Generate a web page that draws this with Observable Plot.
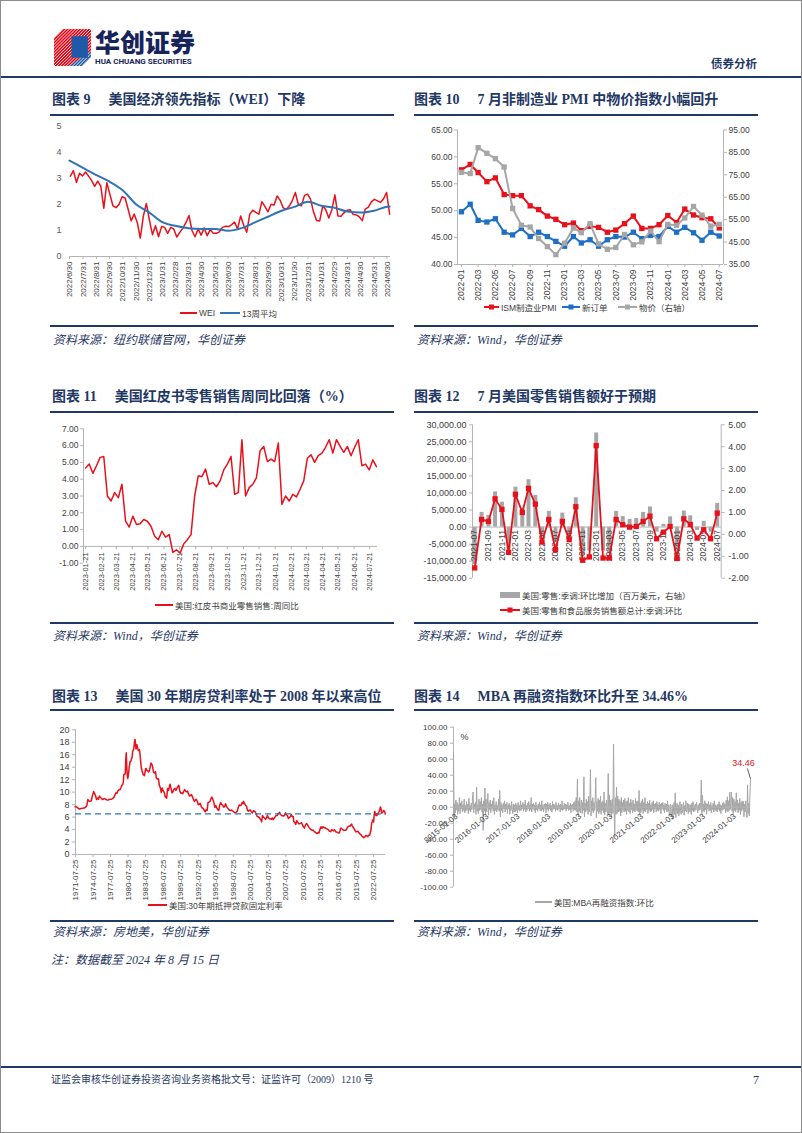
<!DOCTYPE html>
<html lang="zh">
<head>
<meta charset="utf-8">
<script src="https://cdn.jsdelivr.net/npm/d3@7"></script>
<script src="https://cdn.jsdelivr.net/npm/@observablehq/plot@0.6"></script>
<style>
html,body{margin:0;padding:0;background:#fff;}
#page{position:relative;width:802px;height:1133px;overflow:hidden;background:#fff;font-family:"Liberation Sans","Noto Sans CJK SC",sans-serif;}
#border{position:absolute;left:0;top:0;width:802px;height:1133px;box-sizing:border-box;border:1.5px solid #8c8c8c;pointer-events:none;}
.abs{position:absolute;white-space:nowrap;}
.title{font-family:"Liberation Serif","Noto Sans CJK SC",serif;font-weight:bold;font-size:14px;color:#1f3864;line-height:16px;}
.src{font-family:"Liberation Serif","Noto Sans CJK SC",serif;font-style:italic;font-size:12px;color:#1f3864;line-height:14px;}
.leg{position:absolute;display:flex;align-items:center;height:12px;font-size:8.5px;color:#404040;white-space:nowrap;font-family:"Liberation Sans","Noto Sans CJK SC",sans-serif;}
.leg svg{margin-right:2px;display:block;}
.hr{position:absolute;background:#1f3864;}
.chart{position:absolute;}
.chart svg{max-width:none;}
</style>
</head>
<body>
<div id="page"></div>
<script>
// ---------------- DATA ----------------
// Chart 9: NY Fed WEI (weekly from 2022-07-02) and 13-week average
const weiValues = [3.09,3.3,2.85,3.2,3.1,3.25,3.09,2.92,2.7,2.9,2.71,1.86,2.84,2.39,1.95,1.88,2.0,2.3,2.25,1.82,
  1.37,1.63,1.31,0.71,1.55,2.04,1.4,0.84,1.18,0.76,1.15,1.12,0.89,1.12,1.06,0.75,0.93,1.09,1.3,1.58,
  1.0,0.76,1.06,0.82,1.1,0.8,1.04,0.89,0.89,0.95,1.12,1.16,1.15,1.22,1.32,1.06,1.56,1.2,0.93,1.63,
  1.78,1.7,1.63,2.11,1.92,1.72,2.01,1.98,2.33,2.16,1.87,1.82,1.94,2.15,2.46,1.98,1.95,2.35,2.4,2.2,
  1.7,1.38,1.37,1.95,1.8,1.48,1.8,2.37,1.56,1.55,1.68,1.78,1.8,1.62,1.6,1.53,1.38,1.82,1.9,2.1,
  2.2,2.14,2.08,2.22,2.46,1.63];
const avgDates = ["2022/6/30","2022/7/31","2022/8/31","2022/9/30","2022/10/31","2022/11/30","2022/12/31","2023/1/31","2023/2/28",
  "2023/3/31","2023/4/30","2023/5/31","2023/6/30","2023/7/31","2023/8/31","2023/9/30","2023/10/31","2023/11/30","2023/12/31",
  "2024/1/31","2024/2/29","2024/3/31","2024/4/30","2024/5/31","2024/6/30","2024/7/6"];
const avgValues = [3.69,3.41,3.13,2.88,2.54,2.01,1.69,1.31,1.18,1.09,1.06,1.06,0.99,1.09,1.31,1.53,1.76,1.91,2.11,1.95,1.88,1.73,1.69,1.76,1.91,1.92];
const weiTicks = ["2022/6/30","2022/7/31","2022/8/31","2022/9/30","2022/10/31","2022/11/30","2022/12/31","2023/1/31","2023/2/28",
  "2023/3/31","2023/4/30","2023/5/31","2023/6/30","2023/7/31","2023/8/31","2023/9/30","2023/10/31","2023/11/30","2023/12/31",
  "2024/1/31","2024/2/29","2024/3/31","2024/4/30","2024/5/31","2024/6/30"];
const weiYTicks = [0,1,2,3,4,5];

// Chart 10: ISM (monthly 2022-01 .. 2024-07)
const months10 = ["2022-01","2022-02","2022-03","2022-04","2022-05","2022-06","2022-07","2022-08","2022-09","2022-10","2022-11","2022-12",
  "2023-01","2023-02","2023-03","2023-04","2023-05","2023-06","2023-07","2023-08","2023-09","2023-10","2023-11","2023-12",
  "2024-01","2024-02","2024-03","2024-04","2024-05","2024-06","2024-07"];
const pmiValues = [57.6,58.6,57.1,55.4,56.1,53.0,52.8,52.8,50.9,50.2,49.0,48.4,47.4,47.7,46.3,47.1,46.9,46.0,46.4,47.6,49.0,46.7,46.7,47.4,49.1,47.8,50.3,49.2,48.7,48.5,46.8];
const orderValues = [49.8,51.2,48.2,47.9,48.5,46.0,45.5,46.7,45.2,46.0,45.2,44.3,43.4,45.2,44.0,44.6,43.4,44.6,45.2,45.1,46.0,44.8,45.4,45.2,47.1,46.0,46.9,45.9,44.5,46.0,45.3];
const priceValues = [76.1,75.6,87.1,84.6,82.2,78.5,60.0,52.5,51.7,46.6,43.0,39.4,44.5,51.3,49.2,53.2,44.2,41.8,42.6,48.4,43.8,45.1,49.9,45.2,52.9,52.5,55.8,60.9,57.0,52.1,52.9];
const ticks10 = ["2022-01","2022-03","2022-05","2022-07","2022-09","2022-11","2023-01","2023-03","2023-05","2023-07","2023-09","2023-11","2024-01","2024-03","2024-05","2024-07"];
const leftTicks10 = [40,45,50,55,60,65];
const rightTicks10 = [35,45,55,65,75,85,95];

// Chart 11: Redbook weekly y/y (from 2023-01-21)
const redbookValues = [4.67,4.9,4.35,4.8,5.3,5.35,3.0,2.7,3.2,2.9,3.7,1.5,1.15,1.8,1.3,1.35,1.6,1.5,1.2,0.6,
  0.4,0.9,0.55,0.7,-0.35,-0.2,-0.4,0.15,0.4,0.7,3.0,4.2,4.15,4.6,3.7,3.8,3.55,3.9,4.55,4.9,
  5.35,3.1,3.2,6.35,3.0,3.5,3.7,4.1,5.7,5.95,5.05,5.2,5.05,6.15,2.5,3.0,2.7,3.1,2.95,3.4,
  3.9,5.25,5.45,5.0,5.4,5.55,5.9,6.35,5.55,6.35,5.95,5.6,5.95,5.4,5.9,6.35,4.8,4.9,4.55,5.15,4.75];
const ticks11 = ["2023-01-21","2023-02-21","2023-03-21","2023-04-21","2023-05-21","2023-06-21","2023-07-21","2023-08-21","2023-09-21","2023-10-21",
  "2023-11-21","2023-12-21","2024-01-21","2024-02-21","2024-03-21","2024-04-21","2024-05-21","2024-06-21","2024-07-21"];
const yTicks11 = [-1,0,1,2,3,4,5,6,7];

// Chart 12: US retail sales (monthly 2021-07 .. 2024-07)
const months12 = ["2021-07","2021-08","2021-09","2021-10","2021-11","2021-12","2022-01","2022-02","2022-03","2022-04","2022-05","2022-06",
  "2022-07","2022-08","2022-09","2022-10","2022-11","2022-12","2023-01","2023-02","2023-03","2023-04","2023-05","2023-06",
  "2023-07","2023-08","2023-09","2023-10","2023-11","2023-12","2024-01","2024-02","2024-03","2024-04","2024-05","2024-06","2024-07"];
const retailChange = [-11000,4300,3400,10300,7300,-6500,11700,5500,13900,9300,-2500,4600,-4500,4100,-2500,8600,-8200,-7000,27600,-7000,-7500,4600,3100,2250,2500,4300,5900,-1500,800,3000,-8000,4700,3300,-1000,1700,-1500,6900];
const retailMoM = [-1.53,0.68,0.59,1.62,1.14,-0.82,1.83,1.0,2.1,1.38,-0.35,0.68,-0.7,0.59,-0.24,1.26,-1.18,-1.03,4.05,-1.08,-1.08,0.68,0.44,0.33,0.36,0.59,0.83,-0.2,0.1,0.36,-1.1,0.71,0.45,-0.17,0.21,-0.2,0.97];
const ticks12 = ["2021-07","2021-09","2021-11","2022-01","2022-03","2022-05","2022-07","2022-09","2022-11","2023-01","2023-03","2023-05","2023-07","2023-09","2023-11","2024-01","2024-03","2024-05","2024-07"];
const leftTicks12 = [-15000,-10000,-5000,0,5000,10000,15000,20000,25000,30000];
const rightTicks12 = [-2,-1,0,1,2,3,4,5];

// Chart 13: Freddie Mac 30Y fixed mortgage rate
const mortMonths = ["1971-07","1971-10","1972-01","1972-04","1972-07","1972-10","1973-01","1973-04","1973-07","1973-09","1973-11",
 "1974-01","1974-04","1974-06","1974-08","1974-09","1974-11","1975-01","1975-03","1975-05","1975-07","1975-09","1975-11",
 "1976-01","1976-03","1976-05","1976-07","1976-09","1976-11","1977-01","1977-03","1977-05","1977-07","1977-09","1977-11",
 "1978-01","1978-03","1978-05","1978-07","1978-09","1978-11","1979-01","1979-03","1979-05","1979-07","1979-09","1979-10","1979-11",
 "1980-01","1980-02","1980-03","1980-04","1980-05","1980-06","1980-07","1980-08","1980-09","1980-10","1980-11","1980-12",
 "1981-01","1981-02","1981-03","1981-04","1981-05","1981-06","1981-07","1981-08","1981-09","1981-10","1981-11","1981-12",
 "1982-01","1982-02","1982-03","1982-04","1982-05","1982-06","1982-07","1982-08","1982-09","1982-10","1982-11","1982-12",
 "1983-01","1983-02","1983-03","1983-04","1983-05","1983-06","1983-07","1983-08","1983-09","1983-10","1983-11","1983-12",
 "1984-01","1984-02","1984-03","1984-04","1984-05","1984-06","1984-07","1984-08","1984-09","1984-10","1984-11","1984-12",
 "1985-02","1985-04","1985-06","1985-08","1985-10","1985-12","1986-02","1986-04","1986-06","1986-08","1986-10","1986-12",
 "1987-02","1987-03","1987-05","1987-07","1987-09","1987-10","1987-12","1988-02","1988-04","1988-06","1988-08","1988-10","1988-12",
 "1989-02","1989-04","1989-06","1989-08","1989-10","1989-12","1990-02","1990-04","1990-06","1990-08","1990-10","1990-12",
 "1991-02","1991-04","1991-06","1991-08","1991-10","1991-12","1992-02","1992-04","1992-06","1992-08","1992-10","1992-12",
 "1993-02","1993-04","1993-06","1993-08","1993-10","1993-12","1994-02","1994-04","1994-06","1994-08","1994-10","1994-12",
 "1995-02","1995-04","1995-06","1995-08","1995-10","1995-12","1996-02","1996-04","1996-06","1996-08","1996-10","1996-12",
 "1997-02","1997-04","1997-06","1997-08","1997-10","1997-12","1998-02","1998-04","1998-06","1998-08","1998-10","1998-12",
 "1999-02","1999-04","1999-06","1999-08","1999-10","1999-12","2000-02","2000-04","2000-05","2000-07","2000-09","2000-11",
 "2001-01","2001-03","2001-05","2001-07","2001-09","2001-11","2002-01","2002-03","2002-05","2002-07","2002-09","2002-11",
 "2003-01","2003-03","2003-05","2003-06","2003-08","2003-10","2003-12","2004-02","2004-04","2004-06","2004-08","2004-10","2004-12",
 "2005-02","2005-04","2005-06","2005-08","2005-10","2005-12","2006-02","2006-04","2006-06","2006-07","2006-09","2006-11",
 "2007-01","2007-03","2007-05","2007-07","2007-09","2007-11","2008-01","2008-03","2008-05","2008-07","2008-09","2008-11","2008-12",
 "2009-02","2009-04","2009-06","2009-08","2009-10","2009-12","2010-02","2010-04","2010-06","2010-08","2010-10","2010-12",
 "2011-02","2011-04","2011-06","2011-08","2011-10","2011-12","2012-02","2012-04","2012-06","2012-08","2012-10","2012-12",
 "2013-02","2013-04","2013-06","2013-08","2013-10","2013-12","2014-02","2014-04","2014-06","2014-08","2014-10","2014-12",
 "2015-02","2015-04","2015-06","2015-08","2015-10","2015-12","2016-02","2016-04","2016-06","2016-08","2016-10","2016-12",
 "2017-02","2017-04","2017-06","2017-08","2017-10","2017-12","2018-02","2018-04","2018-06","2018-08","2018-10","2018-11","2018-12",
 "2019-02","2019-04","2019-06","2019-08","2019-10","2019-12","2020-02","2020-04","2020-06","2020-08","2020-10","2020-12",
 "2021-02","2021-04","2021-06","2021-08","2021-10","2021-12","2022-01","2022-02","2022-03","2022-04","2022-05","2022-06",
 "2022-07","2022-08","2022-09","2022-10","2022-11","2022-12","2023-01","2023-02","2023-03","2023-04","2023-05","2023-06",
 "2023-07","2023-08","2023-09","2023-10","2023-11","2023-12","2024-01","2024-02","2024-03","2024-04","2024-05","2024-06","2024-07","2024-08"];
const mortRates = [7.69,7.63,7.44,7.29,7.37,7.40,7.44,7.54,7.85,8.82,8.58,
 8.54,8.58,9.28,9.77,10.11,9.79,9.43,8.83,9.04,8.87,9.37,9.14,
 9.02,8.82,8.86,8.99,8.89,8.81,8.72,8.74,8.84,8.85,8.85,8.93,
 9.04,9.20,9.59,9.88,9.81,10.22,10.39,10.37,10.69,11.09,11.30,11.64,12.83,
 12.88,13.04,15.28,16.32,14.26,12.71,12.19,12.56,13.20,14.00,14.47,14.95,
 14.90,15.13,15.40,15.58,16.40,16.70,16.83,17.29,18.16,18.45,17.83,16.92,
 17.40,17.60,17.16,16.89,16.68,16.70,16.82,16.27,15.43,14.61,13.83,13.62,
 13.25,13.04,12.80,12.78,12.63,12.87,13.42,13.81,13.73,13.54,13.44,13.42,
 13.37,13.23,13.39,13.65,13.94,14.42,14.67,14.47,14.35,14.13,13.64,13.18,
 13.07,13.29,12.22,12.12,12.16,11.09,10.70,9.94,10.68,10.20,9.97,9.31,
 9.08,9.04,10.60,10.28,11.03,11.26,10.65,9.88,10.07,10.46,10.60,10.27,10.61,
 10.93,11.09,10.16,9.83,9.89,9.74,10.14,10.41,10.16,10.06,10.17,9.67,
 9.37,9.49,9.62,9.24,8.86,8.50,8.76,8.85,8.51,7.99,8.04,8.21,
 7.68,7.46,7.42,7.11,6.83,7.17,7.06,8.32,8.40,8.51,8.93,9.20,
 8.83,8.32,7.57,7.86,7.48,7.20,7.08,7.93,8.32,7.99,7.92,7.60,
 7.65,8.14,7.69,7.48,7.29,7.10,7.04,7.14,7.00,6.92,6.71,6.72,
 6.81,6.92,7.55,7.94,7.85,7.91,8.33,8.15,8.52,8.15,7.91,7.75,
 7.03,6.95,7.14,7.13,6.82,6.66,7.00,6.97,6.81,6.49,6.09,6.07,
 5.92,5.75,5.48,5.23,6.26,5.95,5.88,5.64,5.83,6.29,5.88,5.72,5.75,
 5.63,5.86,5.58,5.82,6.07,6.27,6.25,6.51,6.68,6.76,6.40,6.24,
 6.22,6.16,6.26,6.70,6.38,6.21,5.76,5.97,6.04,6.43,6.04,6.09,5.29,
 5.13,4.81,5.42,5.19,4.95,4.93,4.99,5.10,4.74,4.43,4.23,4.71,
 4.95,4.84,4.51,4.27,4.07,3.96,3.89,3.91,3.68,3.60,3.47,3.35,
 3.53,3.45,4.07,4.46,4.20,4.46,4.30,4.34,4.16,4.12,4.04,3.86,
 3.71,3.67,3.98,3.91,3.80,3.96,3.66,3.61,3.57,3.44,3.47,4.20,
 4.17,4.05,3.90,3.88,3.90,3.95,4.33,4.47,4.57,4.55,4.83,4.87,4.64,
 4.37,4.14,3.80,3.62,3.69,3.72,3.47,3.31,3.16,2.94,2.83,2.68,
 2.81,3.06,2.98,2.84,3.07,3.10,3.45,3.76,4.17,4.98,5.23,5.52,
 5.41,5.22,6.11,6.90,6.81,6.36,6.27,6.26,6.54,6.34,6.43,6.71,
 6.84,7.07,7.20,7.62,7.44,6.82,6.64,6.78,6.82,6.99,7.06,6.92,6.85,6.49];
const ticks13 = ["1971-07-25","1974-07-25","1977-07-25","1980-07-25","1983-07-25","1986-07-25","1989-07-25","1992-07-25","1995-07-25",
  "1998-07-25","2001-07-25","2004-07-25","2007-07-25","2010-07-25","2013-07-25","2016-07-25","2019-07-25","2022-07-25"];
const yTicks13 = [0,2,4,6,8,10,12,14,16,18,20];
const dashLevel = [6.5];

// Chart 14: MBA refinance index w/w % (weekly from 2015-01-03)
const mbaValues = [
 66,-15,4,-7,9,-3,6,-9,3,-5,12,-8,5, -2,8,-6,3,-4,10,-7,2,-5,7,-3,4,-8, 11,-4,2,-6,5,-3,9,19,-7,4,-2,6,-9, 25,-5,3,-8,10,-4,7,-3,12,-6,4,-29,8,
 -5,24,-8,10,-6,3,17,-10,6,-3,9,-7,4, -2,8,-5,12,-9,3,-4,7,-6,2,-3,10,-5, 21,-12,6,-4,3,-7,5,-2,8,-6,4,-3,6, -8,3,-2,5,-9,2,-4,7,-3,-8,4,-6,3,
 -6,5,-4,3,-7,6,-3,2,-5,8,-4,3,-2, 6,-5,4,-3,9,-6,2,-4,5,-2,7,-5,3, -3,12,-6,4,-2,5,-4,3,-7,6,-3,2,-5, 4,-2,6,-4,3,-5,8,-3,2,-6,4,-2,5,
 -7,4,-3,6,-5,3,-2,5,-4,2,-6,7,-3, 4,-2,3,-5,6,-3,2,-4,5,-2,3,-6,4, -3,8,-4,2,-3,5,-2,4,-5,3,-2,6,-4, 2,-3,5,-7,3,-2,4,-5,6,-3,8,-4,12,
 -6,35,-10,8,-5,12,-7,4,9,-8,6,-4,38, -12,5,-6,10,-4,7,-9,14,-6,5,47,-11,8, -5,12,-7,6,-4,10,37,-13,7,-5,11,-8,9, -6,14,-9,6,-4,8,-7,19,-10,5,-6,9,-4,
 -8,42,-10,15,-7,9,-12,6,10,-8,79,-6,-37, 12,-9,25,-8,14,-6,10,-5,8,-11,12,-7,6, -4,9,-6,11,-5,7,-9,8,-4,12,-6,5,-8, 10,-3,6,-7,9,-5,4,-6,11,-4,7,-5,8,
 -6,21,-9,5,-7,8,-4,10,-8,6,-5,12,-6, 4,-3,7,-8,5,-4,9,-6,3,-5,6,-3,8, -7,4,-2,5,-6,7,-4,3,-5,6,-3,4,-8, 5,-2,6,-4,3,-7,5,-3,4,-6,8,-5,3,
 -10,-6,4,-12,-8,3,-15,-5,6,-9,18,-13,-4, 5,-8,3,-11,-6,7,-4,-9,4,-7,-3,6,-10, 2,-5,8,-6,-3,5,-8,4,-2,-6,3,-9,5, -4,7,-6,2,-5,4,-3,6,-2,-7,3,-4,5,
 -3,6,34,-8,15,-5,4,-6,8,-3,5,-9,4, -2,7,-5,3,-4,6,-7,2,-3,5,-6,8,-4, 3,-5,2,-6,4,-3,7,-5,3,-8,2,-4,5, -3,6,-2,4,-7,9,-5,13,-6,8,-4,19,-3,
 6,19,-5,12,-8,10,-4,7,-6,18,-3,9,-7,5,-4,11,-9,6,-5,8,-3,7,-12,4,-6,8,-4,-13,28,-8,5,-11,15,34.46];
const ticks14 = ["2015-01-03","2016-01-03","2017-01-03","2018-01-03","2019-01-03","2020-01-03","2021-01-03","2022-01-03","2023-01-03","2024-01-03"];
const yTicks14 = [-100,-80,-60,-40,-20,0,20,40,60,80,100];

// ---------------- LAYOUT HELPERS ----------------
const NAVY = "#1f3864", RED = "#e8101a", BLUE9 = "#2e74b5", BLUE10 = "#1f6fc4", GRAY = "#a6a6a6", AX = "#b4b4b4", TXT = "#404040";
const page = document.getElementById("page");
function el(tag, cls, css, html) {
  const e = document.createElement(tag);
  if (cls) e.className = cls;
  Object.assign(e.style, css);
  if (html != null) e.innerHTML = html;
  page.appendChild(e);
  return e;
}
function hr(x1, x2, y, h) { el("div", "hr", {left: x1 + "px", top: (y - h / 2) + "px", width: (x2 - x1) + "px", height: h + "px"}); }
function title(x, yc, num, text) {
  el("div", "abs title", {left: x + "px", top: (yc - 8) + "px"}, `<span>图表 ${num}</span><span style="margin-left:18px">${text}</span>`);
}
function source(x, yc, text) { el("div", "abs src", {left: x + "px", top: (yc - 7) + "px"}, text); }
function legend(x, yc, kind, color, label, w) {
  let sw = `<svg width="${w}" height="12">`;
  if (kind === "rect") sw += `<rect x="0" y="3" width="${w}" height="6" fill="${color}"/>`;
  else sw += `<line x1="0" x2="${w}" y1="6" y2="6" stroke="${color}" stroke-width="2"/>`;
  if (kind === "sq") sw += `<rect x="${w / 2 - 2.5}" y="3.5" width="5" height="5" fill="${color}"/>`;
  sw += `</svg>`;
  el("div", "leg", {left: x + "px", top: (yc - 6) + "px"}, sw + `<span>${label}</span>`);
}
function place(svg, x, y, w, h) {
  const d = el("div", "chart", {left: x + "px", top: y + "px", width: w + "px", height: h + "px"});
  d.appendChild(svg);
}
const fmtLocale = d3.formatLocale({decimal: ".", thousands: ",", grouping: [3], currency: ["", ""], minus: "-"});
const f2 = fmtLocale.format(".2f"), fc2 = fmtLocale.format(",.2f"), fInt = d => String(d);
const parseSlash = d3.timeParse("%Y/%m/%d"), parseYM = d3.timeParse("%Y-%m"), parseYMD = d3.timeParse("%Y-%m-%d");
const baseStyle = {background: "transparent", overflow: "visible", fontFamily: '"Liberation Sans","Noto Sans CJK SC",sans-serif', fontSize: "8.5px", color: TXT};

// ---------------- PAGE FURNITURE ----------------
el("div", "abs", {left: "54px", top: "29px"}, `<svg width="37" height="37" viewBox="0 0 36 36">
 <defs><clipPath id="lg"><path d="M0,9 L9,0 L36,0 L36,27 L27,36 L0,36Z"/></clipPath></defs>
 <g clip-path="url(#lg)">
  <rect width="36" height="36" fill="#e60012"/>
  <path d="M36,22 L36,36 L14,36Z" fill="#1e5aa8"/>
  <g stroke="#fff" stroke-width="0.9">${d3.range(-36, 40, 3).map(v => `<line x1="${v}" y1="36" x2="${v + 36}" y2="0"/>`).join("")}</g>
  <rect x="17" y="7" width="16" height="21" fill="#1e5aa8"/>
 </g></svg>`);
el("div", "abs", {left: "95px", top: "29px", fontFamily: '"Noto Sans CJK SC",sans-serif', fontWeight: "900", fontSize: "25px", lineHeight: "25px", color: "#17245a"}, "华创证券");
el("div", "abs", {left: "95px", top: "57px", fontFamily: "Roboto,sans-serif", fontWeight: "bold", fontSize: "8px", lineHeight: "9px", color: "#17245a"}, "HUA CHUANG SECURITIES");
el("div", "abs", {left: "711px", top: "56px", fontFamily: '"Noto Sans CJK SC",sans-serif', fontWeight: "bold", fontSize: "11.5px", lineHeight: "14px", color: NAVY}, "债券分析");
hr(0, 802, 77, 2);

title(52, 100, "9", "美国经济领先指标（WEI）下降");
title(414, 100, "10", "7 月非制造业 PMI 中物价指数小幅回升");
hr(50, 394, 115, 2); hr(414, 758, 115, 2);
title(52, 397, "11", "美国红皮书零售销售周同比回落（%）");
title(414, 397, "12", "7 月美国零售销售额好于预期");
hr(50, 394, 412, 2); hr(414, 758, 412, 2);
title(52, 697, "13", "美国 30 年期房贷利率处于 2008 年以来高位");
title(414, 697, "14", "MBA 再融资指数环比升至 34.46%");
hr(50, 394, 710, 2); hr(414, 758, 710, 2);

hr(50, 394, 326, 1.5); hr(414, 758, 326, 1.5);
hr(50, 394, 623, 1.5); hr(414, 758, 623, 1.5);
hr(50, 394, 921, 1.5); hr(414, 758, 921, 1.5);
source(53, 340, "资料来源：纽约联储官网，华创证券");
source(417, 340, "资料来源：Wind，华创证券");
source(53, 636, "资料来源：Wind，华创证券");
source(417, 636, "资料来源：Wind，华创证券");
source(53, 932, "资料来源：房地美，华创证券");
source(417, 932, "资料来源：Wind，华创证券");
source(51, 960, "注：数据截至 2024 年 8 月 15 日");

hr(0, 802, 1067, 2);
el("div", "abs", {left: "51px", top: "1073px", fontFamily: '"Liberation Serif","Noto Sans CJK SC",serif', fontSize: "10px", lineHeight: "14px", color: NAVY}, "证监会审核华创证券投资咨询业务资格批文号：证监许可（2009）1210 号");
el("div", "abs", {left: "753px", top: "1072px", fontFamily: '"Liberation Serif",serif', fontSize: "12px", lineHeight: "16px", color: NAVY}, "7");

// ---------------- CHART 9 ----------------
{
  const weiStart = parseYMD("2022-07-02");
  const weiData = weiValues.map((v, i) => ({date: d3.timeDay.offset(weiStart, 7 * i), v}));
  const avgData = avgDates.map((d, i) => ({date: parseSlash(d), v: avgValues[i]}));
  const xd = [parseSlash("2022/6/30"), parseSlash("2024/7/8")];
  const svg = Plot.plot({
    width: 360, height: 195, marginLeft: 29, marginRight: 10, marginTop: 11, marginBottom: 54,
    style: baseStyle,
    x: {type: "time", domain: xd},
    y: {domain: [0, 5]},
    marks: [
      Plot.ruleY([0], {stroke: AX}),
      Plot.axisY({ticks: weiYTicks, tickFormat: fInt, tickSize: 0, tickPadding: 8, label: null, fontSize: 9, fill: "#595959"}),
      Plot.axisX({ticks: weiTicks.map(parseSlash), tickFormat: d3.timeFormat("%Y/%-m/%-d"), tickRotate: -90, tickSize: 3, tickPadding: 2, label: null, stroke: AX, fill: TXT, fontSize: 8}),
      Plot.line(weiData, {x: "date", y: "v", stroke: RED, strokeWidth: 1.5}),
      Plot.line(avgData, {x: "date", y: "v", stroke: BLUE9, strokeWidth: 2, curve: "monotone-x"})
    ]
  });
  place(svg, 40, 115, 360, 195);
  legend(180, 313, "line", RED, "WEI", 17);
  legend(220, 313, "line", BLUE9, "13周平均", 20);
}

// ---------------- CHART 10 ----------------
{
  const toLeft = p => 40 + (p - 35) * 25 / 60;
  const fromLeft = y => 35 + (y - 40) * 60 / 25;
  const rows = months10.map((m, i) => ({date: parseYM(m), pmi: pmiValues[i], ord: orderValues[i], price: toLeft(priceValues[i])}));
  const xd = [parseYMD("2021-12-18"), parseYMD("2024-07-16")];
  const svg = Plot.plot({
    width: 360, height: 185, marginLeft: 47, marginRight: 47, marginTop: 14.5, marginBottom: 36,
    style: baseStyle,
    x: {type: "time", domain: xd},
    y: {domain: [40, 65]},
    marks: [
      Plot.ruleX(xd, {stroke: AX}),
      Plot.ruleY([40], {stroke: AX}),
      Plot.axisY({anchor: "left", ticks: leftTicks10, tickFormat: f2, tickSize: 3, tickPadding: 2, label: null, stroke: AX, fill: TXT, fontSize: 8.5}),
      Plot.axisY({anchor: "right", ticks: rightTicks10.map(toLeft), tickFormat: y => f2(fromLeft(y)), tickSize: 3, tickPadding: 2, label: null, stroke: AX, fill: TXT, fontSize: 8.5}),
      Plot.axisX({ticks: ticks10.map(parseYM), tickFormat: d3.timeFormat("%Y-%m"), tickRotate: -90, tickSize: 3, tickPadding: 2, label: null, stroke: AX, fill: TXT, fontSize: 8.5}),
      Plot.line(rows, {x: "date", y: "pmi", stroke: RED, strokeWidth: 2}),
      Plot.dot(rows, {x: "date", y: "pmi", symbol: "square", r: 3, fill: RED}),
      Plot.line(rows, {x: "date", y: "ord", stroke: BLUE10, strokeWidth: 2}),
      Plot.dot(rows, {x: "date", y: "ord", symbol: "square", r: 3, fill: BLUE10}),
      Plot.line(rows, {x: "date", y: "price", stroke: GRAY, strokeWidth: 2}),
      Plot.dot(rows, {x: "date", y: "price", symbol: "square", r: 3, fill: GRAY})
    ]
  });
  place(svg, 410, 115, 360, 185);
  legend(484, 307, "sq", RED, "ISM制造业PMI", 15);
  legend(562, 307, "sq", BLUE10, "新订单", 18);
  legend(618, 307, "sq", GRAY, "物价（右轴）", 19);
}

// ---------------- CHART 11 ----------------
{
  const start = parseYMD("2023-01-21");
  const rows = redbookValues.map((v, i) => ({date: d3.timeDay.offset(start, 7 * i), v}));
  const xd = [parseYMD("2023-01-17"), parseYMD("2024-08-05")];
  const tk = ticks11.map(parseYMD);
  const svg = Plot.plot({
    width: 360, height: 180, marginLeft: 43, marginRight: 23, marginTop: 13.3, marginBottom: 32.3,
    style: baseStyle,
    x: {type: "time", domain: xd, axis: null},
    y: {domain: [-1, 7]},
    marks: [
      Plot.ruleX([xd[0]], {stroke: AX}),
      Plot.ruleY([0], {stroke: AX}),
      Plot.ruleX(tk, {x: d => d, y1: 0, y2: -0.2, stroke: AX}),
      Plot.axisY({ticks: yTicks11, tickFormat: f2, tickSize: 3, tickPadding: 2, label: null, stroke: AX, fill: TXT, fontSize: 8.5}),
      Plot.text(tk, {x: d => d, y: 0, text: d3.timeFormat("%Y-%m-%d"), rotate: -90, textAnchor: "end", dy: 6, fontSize: 7.5, fill: TXT}),
      Plot.line(rows, {x: "date", y: "v", stroke: RED, strokeWidth: 1.5})
    ]
  });
  place(svg, 40, 415, 360, 180);
  legend(155, 605, "line", RED, "美国:红皮书商业零售销售:周同比", 18);
}

// ---------------- CHART 12 ----------------
{
  const toLeft = r => -15000 + (r + 2) * 45000 / 7;
  const fromLeft = y => (y + 15000) * 7 / 45000 - 2;
  const rows = months12.map((m, i) => ({date: parseYM(m), bar: retailChange[i], r: toLeft(retailMoM[i])}));
  const xd = [parseYMD("2021-06-21"), parseYMD("2024-07-19")];
  const tk = ticks12.map(parseYM);
  const svg = Plot.plot({
    width: 360, height: 175, marginLeft: 62, marginRight: 49.3, marginTop: 9.3, marginBottom: 12.3,
    style: baseStyle,
    x: {type: "time", domain: xd, axis: null},
    y: {domain: [-15000, 30000]},
    marks: [
      Plot.ruleX(xd, {stroke: AX}),
      Plot.axisY({anchor: "left", ticks: leftTicks12, tickFormat: fc2, tickSize: 3, tickPadding: 3, label: null, stroke: AX, fill: TXT, fontSize: 9}),
      Plot.axisY({anchor: "right", ticks: rightTicks12.map(toLeft), tickFormat: y => f2(fromLeft(y)), tickSize: 3, tickPadding: 4, label: null, stroke: AX, fill: TXT, fontSize: 9}),
      Plot.ruleX(rows, {x: "date", y1: 0, y2: "bar", stroke: GRAY, strokeWidth: 4}),
      Plot.ruleY([0], {stroke: AX}),
      Plot.text(tk, {x: d => d, y: 0, text: d3.timeFormat("%Y-%m"), rotate: -90, textAnchor: "end", dy: 3, fontSize: 8.5, fill: TXT}),
      Plot.line(rows, {x: "date", y: "r", stroke: RED, strokeWidth: 1.8}),
      Plot.dot(rows, {x: "date", y: "r", symbol: "square", r: 3, fill: RED})
    ]
  });
  place(svg, 410, 415, 360, 175);
  legend(500, 595, "rect", GRAY, "美国:零售:季调:环比增加（百万美元，右轴）", 20);
  legend(500, 610, "sq", RED, "美国:零售和食品服务销售额总计:季调:环比", 20);
}

// ---------------- CHART 13 ----------------
{
  const rows = mortMonths.map((m, i) => ({date: parseYM(m), v: mortRates[i]}));
  const xd = [parseYMD("1971-07-25"), parseYMD("2024-08-15")];
  const svg = Plot.plot({
    width: 360, height: 178, marginLeft: 35, marginRight: 15, marginTop: 7.3, marginBottom: 46,
    style: baseStyle,
    x: {type: "time", domain: xd},
    y: {domain: [0, 20]},
    marks: [
      Plot.ruleX([xd[0]], {stroke: AX}),
      Plot.ruleY([0], {stroke: AX}),
      Plot.axisY({ticks: yTicks13, tickFormat: fInt, tickSize: 3, tickPadding: 3, label: null, stroke: AX, fill: TXT, fontSize: 9}),
      Plot.axisX({ticks: ticks13.map(parseYMD), tickFormat: d3.timeFormat("%Y-%m-%d"), tickRotate: -90, tickSize: 3, tickPadding: 2, label: null, stroke: AX, fill: TXT, fontSize: 8}),
      Plot.line(rows, {x: "date", y: "v", stroke: RED, strokeWidth: 1.5}),
      Plot.ruleY(dashLevel, {stroke: BLUE9, strokeWidth: 1.3, strokeDasharray: "6,4"})
    ]
  });
  place(svg, 40, 722, 360, 178);
  legend(148, 905, "line", RED, "美国:30年期抵押贷款固定利率", 19);
}

// ---------------- CHART 14 ----------------
{
  const start = parseYMD("2015-01-03");
  const rows = mbaValues.map((v, i) => ({date: d3.timeDay.offset(start, 7 * i), v}));
  const last = rows[rows.length - 1];
  const xd = [start, last.date];
  const tk = ticks14.map(parseYMD);
  const svg = Plot.plot({
    width: 360, height: 175, marginLeft: 43, marginRight: 20, marginTop: 8.7, marginBottom: 6.3,
    style: baseStyle,
    x: {type: "time", domain: xd, axis: null},
    y: {domain: [-100, 100]},
    marks: [
      Plot.ruleX([xd[0]], {stroke: AX}),
      Plot.axisY({ticks: yTicks14, tickFormat: f2, tickSize: 3, tickPadding: 3, label: null, stroke: AX, fill: TXT, fontSize: 8}),
      Plot.line(rows, {x: "date", y: "v", stroke: GRAY, strokeWidth: 1}),
      Plot.ruleY([0], {stroke: AX}),
      Plot.text(tk, {x: d => d, y: 0, text: d3.timeFormat("%Y-%m-%d"), rotate: -40, textAnchor: "end", dx: 3, dy: 8, fontSize: 8, fill: TXT}),
      Plot.text(["%"], {frameAnchor: "top-left", dx: 7, dy: 6, textAnchor: "start", fontSize: 9, fill: TXT}),
      Plot.link([last], {x1: "date", y1: d => d.v + 1, x2: d => d3.timeDay.offset(d.date, -36), y2: d => d.v + 14, stroke: "#333", strokeWidth: 0.8}),
      Plot.text([last], {x: "date", y: "v", text: d => f2(d.v), dx: -7, dy: -17, fill: RED, fontSize: 9})
    ]
  });
  place(svg, 410, 718, 360, 175);
  legend(535, 902, "line", GRAY, "美国:MBA再融资指数:环比", 17);
}

el("div", "", {}, "").id = "border";
</script>
</body>
</html>
